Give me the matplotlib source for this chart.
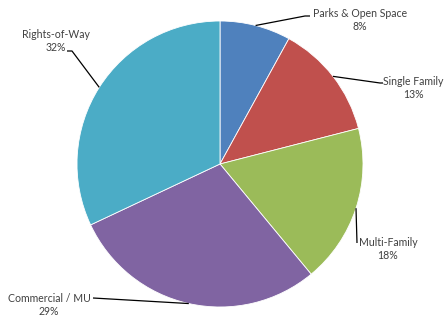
import matplotlib
matplotlib.use("Agg")
import matplotlib.pyplot as plt
import numpy as np

categories = ["Parks & Open Space", "Single Family", "Multi-Family", "Commercial / MU", "Rights-of-Way"]
values = [8, 13, 18, 29, 32]
colors = ["#4F81BD", "#C0504D", "#9BBB59", "#8064A2", "#4BACC6"]

W, H = 444, 322
fig = plt.figure(figsize=(W / 100, H / 100), dpi=100)
ax = fig.add_axes([0, 0, 1, 1])

def Y(y):
    return H - y

cx, cy, r = 220, Y(164), 143
wedges, _ = ax.pie(values, colors=colors, startangle=90, counterclock=False,
                   center=(cx, cy), radius=r, frame=True,
                   wedgeprops=dict(edgecolor="white", linewidth=0.6))
ax.set_xlim(0, W)
ax.set_ylim(0, H)
ax.set_aspect("equal")
ax.axis("off")

# label block centres and leader-line elbows (screen coordinates)
label_pos = [(360, 20), (413, 88), (388, 249), (49, 305), (56, 41)]
elbows = [
    [(305, 16), (310, 16)],
    [(380, 83), (383, 83)],
    [(357, 243)],
    [(93, 298)],
    [(72, 51), (67, 51)],
]

font = ["Lato", "DejaVu Sans"]
for w, cat, v, (lx, ly), elb in zip(wedges, categories, values, label_pos, elbows):
    mid = np.deg2rad((w.theta1 + w.theta2) / 2)
    px = cx + r * np.cos(mid)
    py = cy + r * np.sin(mid)
    xs = [px] + [e[0] for e in elb]
    ys = [py] + [Y(e[1]) for e in elb]
    ax.plot(xs, ys, color="black", linewidth=0.9, solid_capstyle="butt")
    ax.text(lx, Y(ly), f"{cat}\n{v}%", ha="center", va="center", ma="center",
            fontsize=7.6, family=font, color="#404040", linespacing=1.25)

fig.savefig("out.png", dpi=100, facecolor="white")
